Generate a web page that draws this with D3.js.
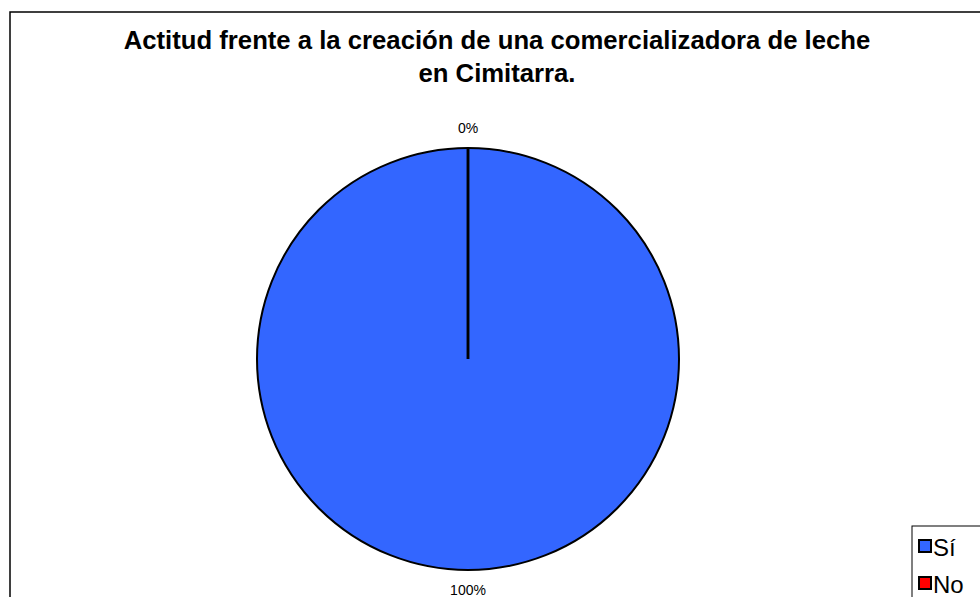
<!DOCTYPE html>
<html>
<head>
<meta charset="utf-8">
<script src="https://cdn.jsdelivr.net/npm/d3@7"></script>
<style>
  body { margin: 0; background: #fff; }
  svg { display: block; font-family: "Liberation Sans", Arial, sans-serif; }
</style>
</head>
<body>
<svg id="chart" width="980" height="597"></svg>
<script>
var categories = ["Sí", "No"];
var values = [100, 0];
var colors = ["#3366FF", "#FF0000"];
var titleLines = ["Actitud frente a la creación de una comercializadora de leche", "en Cimitarra."];

var svg = d3.select("#chart");

// outer chart frame
svg.append("rect").attr("x", 10).attr("y", 12).attr("width", 1000).attr("height", 620)
  .attr("fill", "white").attr("stroke", "black").attr("stroke-width", 1.5);

// title
svg.append("g").selectAll("text").data(titleLines).enter().append("text")
  .attr("x", 497).attr("y", function (d, i) { return 49 + i * 33; })
  .attr("text-anchor", "middle")
  .attr("font-size", 25.7).attr("font-weight", "bold")
  .text(function (d) { return d; });

var cx = 468, cy = 359, r = 211;
var pie = d3.pie().sort(null).value(function (d) { return d; });
var arcs = pie(values);
var arc = d3.arc().innerRadius(0).outerRadius(r);

var g = svg.append("g").attr("transform", "translate(" + cx + "," + cy + ")");
g.selectAll("path").data(arcs).enter().append("path")
  .attr("d", arc)
  .attr("fill", function (d, i) { return colors[i]; })
  .attr("stroke", "black").attr("stroke-width", 2);

// slice boundary lines (radius at each slice start)
g.selectAll("line.edge").data(arcs).enter().append("line")
  .attr("class", "edge")
  .attr("x1", 0).attr("y1", 0)
  .attr("x2", function (d) { return r * Math.sin(d.startAngle); })
  .attr("y2", function (d) { return -r * Math.cos(d.startAngle); })
  .attr("stroke", "black").attr("stroke-width", 2.5);

// percentage labels outside
var total = d3.sum(values);
var labelArc = d3.arc().innerRadius(r + 20).outerRadius(r + 20);
g.selectAll("text.lbl").data(arcs).enter().append("text")
  .attr("class", "lbl")
  .attr("x", function (d) { return labelArc.centroid(d)[0]; })
  .attr("y", function (d) { return labelArc.centroid(d)[1]; })
  .attr("text-anchor", "middle").attr("dominant-baseline", "central")
  .attr("font-size", 14)
  .text(function (d) { return Math.round(d.data / total * 100) + "%"; });

// legend
var lg = svg.append("g").attr("transform", "translate(912,526)");
lg.append("rect").attr("width", 100).attr("height", 100)
  .attr("fill", "white").attr("stroke", "black").attr("stroke-width", 1);
var items = lg.selectAll("g.item").data(categories).enter().append("g")
  .attr("class", "item")
  .attr("transform", function (d, i) { return "translate(0," + (i * 37) + ")"; });
items.append("rect").attr("x", 7).attr("y", 14).attr("width", 12).attr("height", 12)
  .attr("fill", function (d, i) { return colors[i]; })
  .attr("stroke", "black").attr("stroke-width", 2);
items.append("text").attr("x", 21).attr("y", 30)
  .attr("font-size", 24)
  .text(function (d) { return d; });
</script>
</body>
</html>
